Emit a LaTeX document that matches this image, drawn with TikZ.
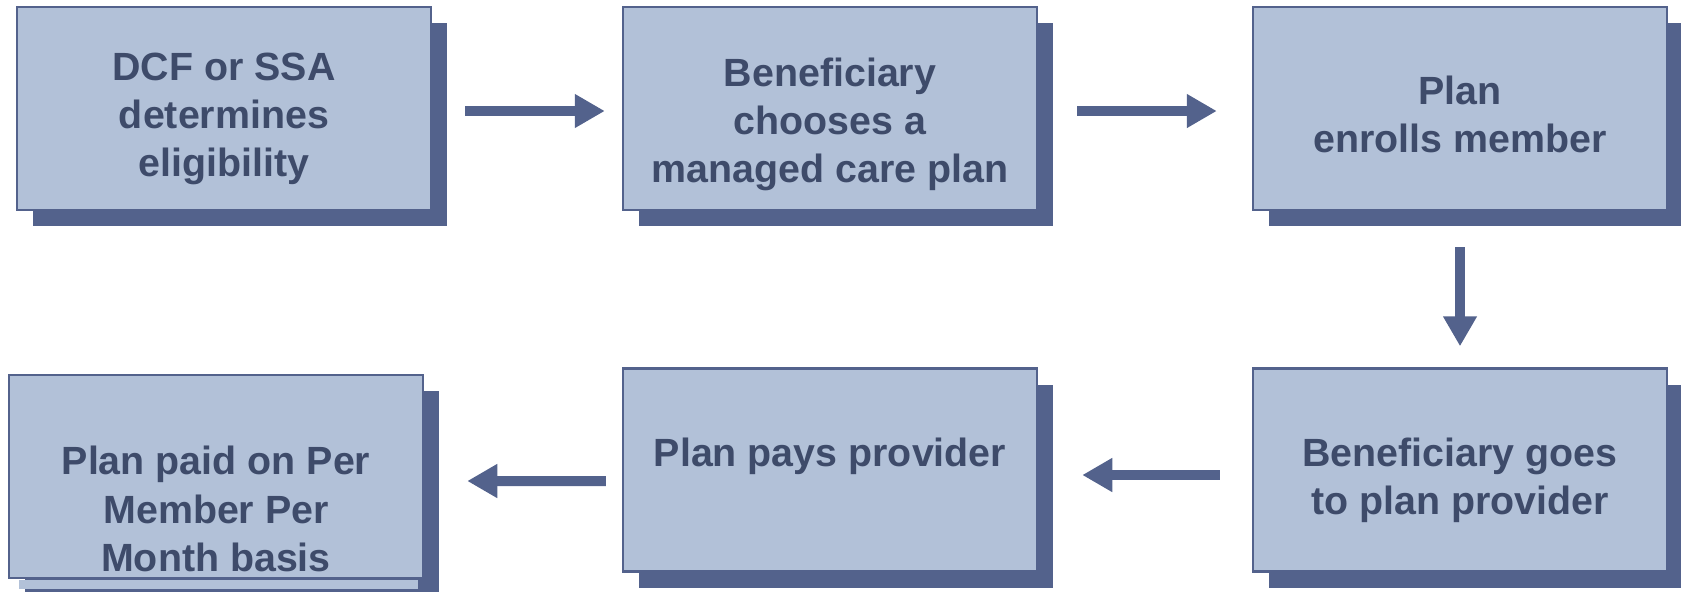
\documentclass[tikz,border=0pt]{standalone}
\usepackage{fontspec}
\setmainfont{Liberation Sans}
\usetikzlibrary{calc,positioning,arrows.meta,shadows}

\definecolor{boxblue}{RGB}{178,193,216}
\definecolor{shadowblue}{RGB}{83,98,140}
\definecolor{textblue}{RGB}{62,75,106}

\begin{document}
\begin{tikzpicture}[
  stepbox/.style={rectangle,draw=shadowblue,line width=.025cm,fill=boxblue,
    minimum width=4.14cm,minimum height=2.03cm,inner sep=0pt,
    drop shadow={shadow xshift=.16cm,shadow yshift=-.16cm,fill=shadowblue,opacity=1}},
  steptext/.style={align=center,text=textblue,font=\fontsize{11.2}{13.7}\selectfont\bfseries},
  flow/.style={draw=shadowblue,line width=.1cm,-{Triangle[length=.3cm,width=.32cm]}},
  ]

  \useasboundingbox (0,0) rectangle (16.81,-5.91);

  % boxes and their texts
  \foreach \n/\x/\y/\dy/\txt in {
      1/2.24/-1.085/-.105/{DCF or SSA\\determines\\eligibility},
      2/8.30/-1.085/-.16/{Beneficiary\\chooses a\\managed care plan},
      3/14.60/-1.085/-.055/{Plan\\enrolls member},
      4/2.16/-4.765/-.325/{Plan paid on Per\\Member Per\\Month basis},
      5/8.30/-4.70/.14/{Plan pays provider},
      6/14.60/-4.70/-.105/{Beneficiary goes\\to plan provider}}
   {
     \node (box_\n) [stepbox] at (\x,\y) {};
     \node (txt_\n) [steptext] at ($(box_\n.center)+(0,\dy)$) {\txt};
   }

  % text area running out under the last box
  \fill[boxblue] ($(box_4.south west)+(.11,-.012)$) rectangle ($(box_4.south east)+(-.06,-.10)$);

  % connectors
  \draw[flow,shorten <=.33cm,shorten >=.17cm] ([yshift=-.25mm]box_1.east) -- ([yshift=-.25mm]box_2.west);
  \draw[flow,shorten <=.39cm,shorten >=.35cm] ([yshift=-.25mm]box_2.east) -- ([yshift=-.25mm]box_3.west);
  \draw[flow,shorten <=.36cm,shorten >=.21cm] (box_3.south) -- (box_6.north);
  \draw[flow,shorten <=.32cm,shorten >=.44cm] ([yshift=-.5mm]box_6.west) -- ([yshift=-.5mm]box_5.east);
  \draw[flow,shorten <=.16cm,shorten >=.43cm] ([yshift=-1.1mm]box_5.west) -- ([yshift=-.45mm]box_4.east);

\end{tikzpicture}
\end{document}
